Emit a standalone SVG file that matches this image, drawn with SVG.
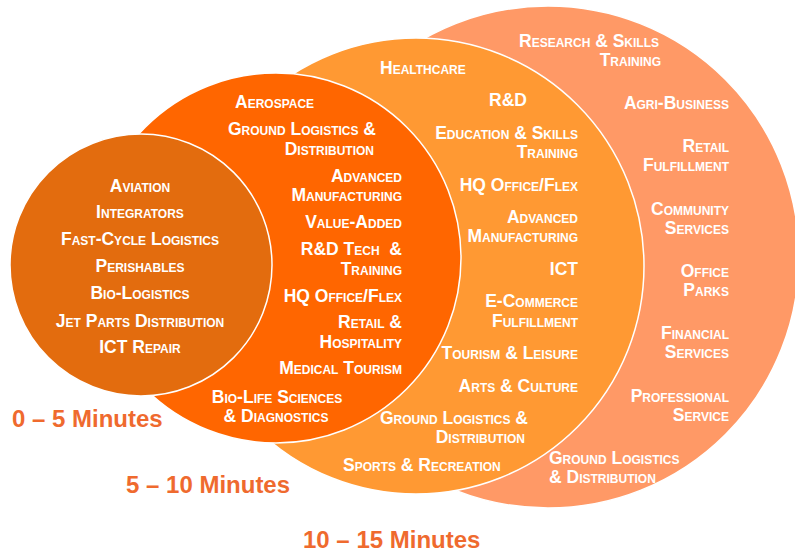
<svg xmlns="http://www.w3.org/2000/svg" width="795" height="556" viewBox="0 0 795 556">
<style>
.ring{stroke:#ffffff;stroke-width:1.5}
.lb{font-family:"Liberation Sans",Arial,sans-serif;font-weight:bold;font-size:17.5px;font-variant:small-caps;fill:#ffffff}
.m{text-anchor:middle}
.e{text-anchor:end}
.mn{font-family:"Liberation Sans",Arial,sans-serif;font-weight:bold;font-size:24px;fill:#EF6A2E}
</style>
<rect width="795" height="556" fill="#ffffff"/>
<g id="zone-10-15">
<circle class="ring" cx="548" cy="257" r="251" fill="#FF9966"/>
<text class="lb" x="519" y="47">Research &amp; Skills</text>
<text class="lb e" x="661" y="66">Training</text>
<text class="lb e" x="729" y="109">Agri-Business</text>
<text class="lb e" x="729" y="152">Retail</text>
<text class="lb e" x="729" y="171">Fulfillment</text>
<text class="lb e" x="729" y="215">Community</text>
<text class="lb e" x="729" y="234">Services</text>
<text class="lb e" x="729" y="277">Office</text>
<text class="lb e" x="729" y="296">Parks</text>
<text class="lb e" x="729" y="339">Financial</text>
<text class="lb e" x="729" y="358">Services</text>
<text class="lb e" x="729" y="402">Professional</text>
<text class="lb e" x="729" y="421">Service</text>
<text class="lb" x="549" y="464">Ground Logistics</text>
<text class="lb" x="549" y="483">&amp; Distribution</text>
</g>
<g id="zone-5-10">
<circle class="ring" cx="416" cy="266" r="228" fill="#FF9933"/>
<text class="lb" x="380" y="74">Healthcare</text>
<text class="lb m" x="508" y="106">R&amp;D</text>
<text class="lb e" x="578" y="139">Education &amp; Skills</text>
<text class="lb e" x="578" y="158">Training</text>
<text class="lb e" x="578" y="191">HQ Office/Flex</text>
<text class="lb e" x="578" y="223">Advanced</text>
<text class="lb e" x="578" y="242">Manufacturing</text>
<text class="lb e" x="578" y="275">ICT</text>
<text class="lb e" x="578" y="307">E-Commerce</text>
<text class="lb e" x="578" y="327">Fulfillment</text>
<text class="lb e" x="578" y="359">Tourism &amp; Leisure</text>
<text class="lb e" x="578" y="392">Arts &amp; Culture</text>
<text class="lb" x="380" y="424">Ground Logistics &amp;</text>
<text class="lb e" x="525" y="443">Distribution</text>
<text class="lb" x="343" y="471">Sports &amp; Recreation</text>
</g>
<g id="zone-2">
<circle class="ring" cx="276" cy="258" r="185" fill="#FF6600"/>
<text class="lb" x="235" y="108">Aerospace</text>
<text class="lb e" x="376" y="135">Ground Logistics &amp;</text>
<text class="lb e" x="374" y="155">Distribution</text>
<text class="lb e" x="402" y="182">Advanced</text>
<text class="lb e" x="402" y="201">Manufacturing</text>
<text class="lb e" x="402" y="228">Value-Added</text>
<text class="lb e" x="402" y="255">R&amp;D Tech&#160; &amp;</text>
<text class="lb e" x="402" y="275">Training</text>
<text class="lb e" x="402" y="302">HQ Office/Flex</text>
<text class="lb e" x="402" y="328">Retail &amp;</text>
<text class="lb e" x="402" y="348">Hospitality</text>
<text class="lb e" x="402" y="374">Medical Tourism</text>
<text class="lb m" x="277" y="403">Bio-Life Sciences</text>
<text class="lb m" x="276" y="422">&amp; Diagnostics</text>
</g>
<g id="zone-0-5">
<circle class="ring" cx="141" cy="265" r="131" fill="#E36C0E"/>
<text class="lb m" x="140" y="192">Aviation</text>
<text class="lb m" x="140" y="218">Integrators</text>
<text class="lb m" x="140" y="245">Fast-Cycle Logistics</text>
<text class="lb m" x="140" y="272">Perishables</text>
<text class="lb m" x="140" y="299">Bio-Logistics</text>
<text class="lb m" x="140" y="327">Jet Parts Distribution</text>
<text class="lb m" x="140" y="353">ICT Repair</text>
</g>
<g id="labels">
<text class="mn" x="12" y="427">0 – 5 Minutes</text>
<text class="mn" x="126" y="493">5 – 10 Minutes</text>
<text class="mn" x="303" y="548">10 – 15 Minutes</text>
</g>
</svg>
